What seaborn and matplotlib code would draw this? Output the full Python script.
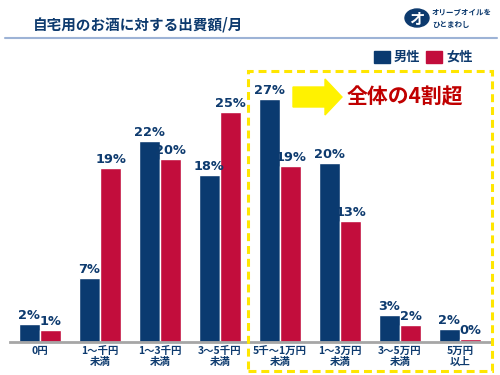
import matplotlib
matplotlib.use("Agg")
import matplotlib.pyplot as plt
import matplotlib.patches as mpatches
import seaborn as sns
import pandas as pd

categories = ["0円", "1～千円\n未満", "1～3千円\n未満", "3～5千円\n未満",
              "5千～1万円\n未満", "1～3万円\n未満", "3～5万円\n未満", "5万円\n以上"]
male = [2.0, 7.0, 22.0, 18.2, 26.6, 19.6, 2.9, 1.4]
female = [1.35, 19.0, 20.0, 25.1, 19.2, 13.2, 1.9, 0.3]
male_labels = ["2%", "7%", "22%", "18%", "27%", "20%", "3%", "2%"]
female_labels = ["1%", "19%", "20%", "25%", "19%", "13%", "2%", "0%"]
genders = ["男性", "女性"]

NAVY = "#0a3a70"
RED = "#c20d3c"
TXT = "#0d3a6e"

sns.set_theme(style="white")
plt.rcParams["font.family"] = ["Noto Sans CJK JP", "DejaVu Sans"]

df = pd.DataFrame({
    "category": categories * 2,
    "gender": [genders[0]] * len(categories) + [genders[1]] * len(categories),
    "value": male + female,
})

fig = plt.figure(figsize=(5, 3.75), dpi=100)
ax = fig.add_axes([0.02, 1 - 342 / 375, 0.96, 274.5 / 375])

sns.barplot(data=df, x="category", y="value", hue="gender", order=categories,
            hue_order=genders, palette=[NAVY, RED], width=0.71, ax=ax,
            legend=False, saturation=1)

for cont, labs in zip(ax.containers, [male_labels, female_labels]):
    ax.bar_label(cont, labels=labs, padding=1.5, color=TXT, fontsize=9.3,
                 fontweight="bold", family=["DejaVu Sans"])

ax.set_xlim(-0.5, 7.5)
ax.set_ylim(0, 30)
ax.set_xlabel("")
ax.set_ylabel("")
ax.set_yticks([])
for s in ["top", "right", "left"]:
    ax.spines[s].set_visible(False)
ax.spines["bottom"].set_color("#a6a6a6")
ax.spines["bottom"].set_linewidth(2)
ax.tick_params(axis="x", length=0, pad=3)
for t in ax.get_xticklabels():
    t.set_fontsize(7.5)
    t.set_fontweight("bold")
    t.set_color(TXT)
    t.set_linespacing(1.1)

def fx(x):
    return x / 500

def fy(y):
    return 1 - y / 375

# title and rule
fig.text(fx(33), fy(25), "自宅用のお酒に対する出費額/月", fontsize=10.5,
         fontweight="bold", color=TXT, va="center", ha="left")
fig.add_artist(plt.Line2D([fx(5), fx(497)], [fy(38), fy(38)],
                          transform=fig.transFigure, color="#9db3d6", lw=1.5))

# logo
fig.add_artist(mpatches.Circle((fx(417), fy(18)), 12 / 500, transform=fig.transFigure,
                               color=TXT))
fig.text(fx(417), fy(18), "オ", fontsize=11, fontweight="bold", color="white",
         ha="center", va="center")
fig.text(fx(432), fy(12), "オリーブオイルを", fontsize=5.4, fontweight="bold",
         color=TXT, ha="left", va="center")
fig.text(fx(432), fy(24), "ひとまわし", fontsize=5.4, fontweight="bold",
         color=TXT, ha="left", va="center")

# legend
for x0, col, lab in [(374, NAVY, genders[0]), (426, RED, genders[1])]:
    fig.add_artist(mpatches.Rectangle((fx(x0), fy(63)), 16 / 500, 12 / 375,
                                      transform=fig.transFigure, color=col))
    fig.text(fx(x0 + 20), fy(57), lab, fontsize=9.5, fontweight="bold",
             color=TXT, ha="left", va="center")

# dashed highlight box
fig.add_artist(mpatches.Rectangle((fx(248), fy(371)), 244 / 500, 300 / 375,
                                  transform=fig.transFigure, fill=False,
                                  edgecolor="#ffe600", lw=2.2,
                                  linestyle=(0, (2.6, 1.6))))

# arrow
pts = [(293, 87), (325, 87), (325, 79), (342, 97), (325, 115), (325, 107), (293, 107)]
fig.add_artist(mpatches.Polygon([(fx(a), fy(b)) for a, b in pts], closed=True,
                                transform=fig.transFigure, color="#fff200"))
fig.text(fx(347), fy(97), "全体の4割超", fontsize=15, fontweight="bold",
         color="#c00000", ha="left", va="center")

fig.savefig("out.png", dpi=100)
